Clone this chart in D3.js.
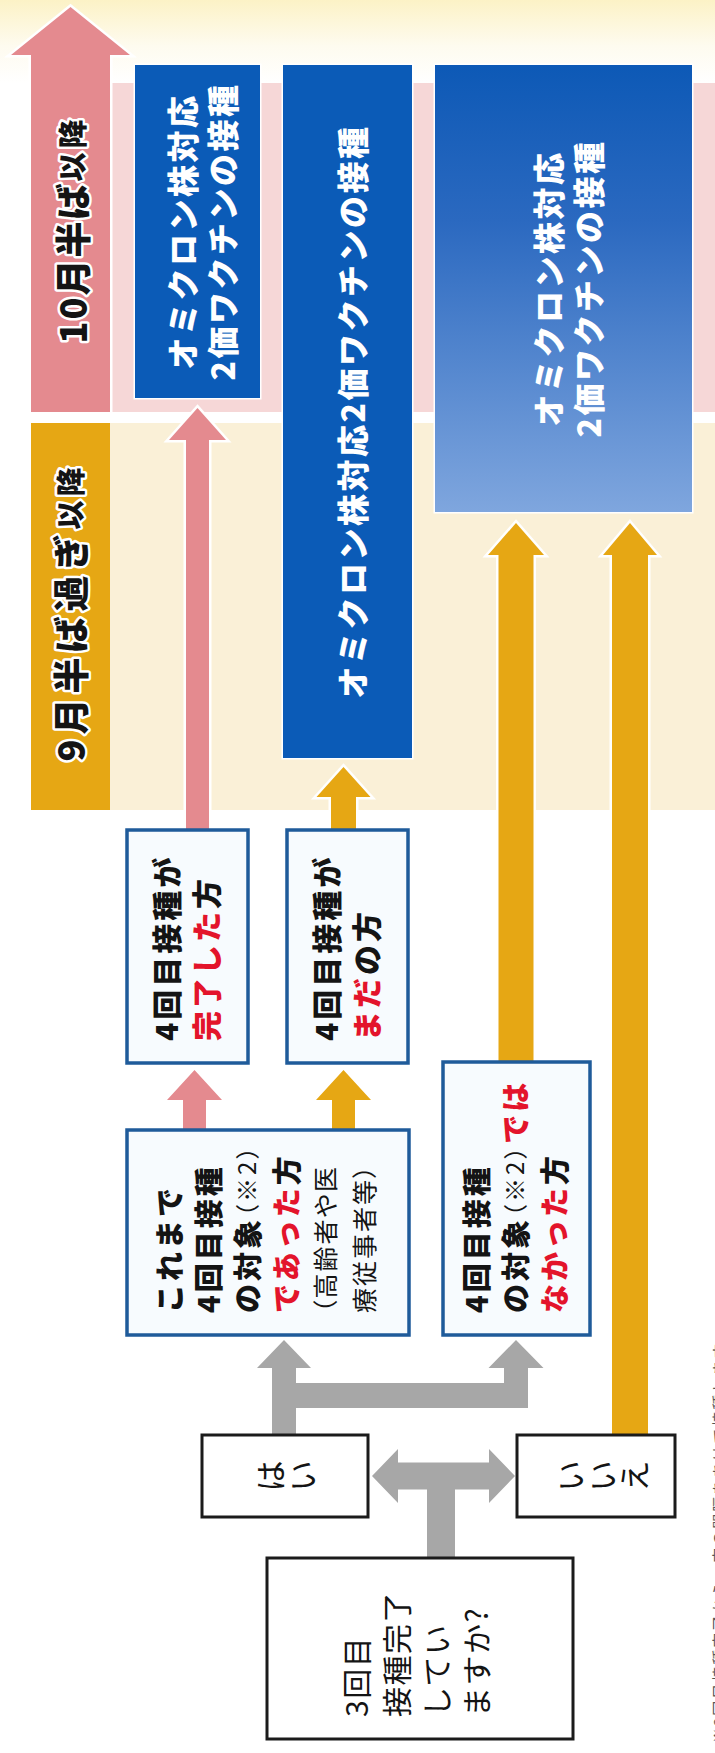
<!DOCTYPE html>
<html><head><meta charset="utf-8">
<script src="https://cdn.jsdelivr.net/npm/d3@7"></script>
<style>html,body{margin:0;padding:0;background:#fff}svg{display:block}</style>
</head><body><div id="chart"></div>
<script>
// ---------------- DATA (content only) ----------------
const phaseLabels = ["10月半ば", "9月半ば過ぎ"];
const phaseSuffix = ["以降", "以降"];
const vaccineLines = [
  ["オミクロン株対応", "2価ワクチンの接種"],
  ["オミクロン株対応2価ワクチンの接種"],
  ["オミクロン株対応", "2価ワクチンの接種"]
];
const statusLines = [
  [[{t:"4回目接種が"}], [{t:"完了した", em:1}, {t:"方"}]],
  [[{t:"4回目接種が"}], [{t:"まだ", em:1}, {t:"の方"}]]
];
const conditionLines = [
  [[{t:"これまで"}], [{t:"4回目接種"}], [{t:"の対象"}, {t:"（※2）", note:1}],
   [{t:"であった", em:1}, {t:"方"}], [{t:"（高齢者や医", note:1}], [{t:"療従事者等）", note:1}]],
  [[{t:"4回目接種"}], [{t:"の対象"}, {t:"（※2）", note:1}, {t:"では", em:1}], [{t:"なかった", em:1}, {t:"方"}]]
];
const answers = ["はい", "いいえ"];
const questionLines = ["3回目", "接種完了", "してい", "ますか?"];
const footnote = "※3回目接種完了から一定の間隔をあけて接種します";

// ---------------- LAYOUT ----------------
const W = 715, H = 1753;
const FONT = "'Noto Sans CJK JP','Noto Sans JP',sans-serif";
const C = {
  pink: "#e48a8f", pinkBand: "#f6d7d7", gold: "#e6a714", cream: "#faf0d7",
  blue: "#0b5bb7", blueLight: "#7fa6de", border: "#1f5b9a", gray: "#a7a7a7",
  red: "#e3142b", ink: "#141414"
};
const col = d3.scaleOrdinal()
  .domain(["phase","blueA","blueB","blueC","st1","st2","cond1","cond2","yes","no","q"])
  .range([[31,110],[135,260],[283,412],[435,692],[127,248],[287,408],[127,409],[443,590],[202,368],[517,675],[267,573]]);
const row = d3.scaleOrdinal()
  .domain(["oct","sep","blueA","blueB","blueC","status","cond1","cond2","answer","q"])
  .range([[83,412],[423,810],[65,398],[65,758],[65,512],[830,1063],[1130,1335],[1062,1335],[1435,1517],[1558,1739]]);

const svg = d3.select("#chart").append("svg").attr("width", W).attr("height", H)
  .attr("viewBox", `0 0 ${W} ${H}`).style("font-family", FONT);
const defs = svg.append("defs");
const gTop = defs.append("linearGradient").attr("id","topg").attr("x1",0).attr("y1",0).attr("x2",0).attr("y2",1);
gTop.append("stop").attr("offset",0).attr("stop-color","#fcf2c6");
gTop.append("stop").attr("offset",0.55).attr("stop-color","#fefbef");
gTop.append("stop").attr("offset",1).attr("stop-color","#ffffff");
const gC = defs.append("linearGradient").attr("id","blueg").attr("x1",0).attr("y1",0).attr("x2",0).attr("y2",1);
gC.append("stop").attr("offset",0).attr("stop-color","#0d59b6");
gC.append("stop").attr("offset",0.35).attr("stop-color","#2b69c0");
gC.append("stop").attr("offset",1).attr("stop-color",C.blueLight);

svg.append("rect").attr("width",W).attr("height",H).attr("fill","#fff");
svg.append("rect").attr("x",0).attr("y",0).attr("width",W).attr("height",row("oct")[0]).attr("fill","url(#topg)");

const bandFill = [C.pinkBand, C.cream];
["oct","sep"].forEach((k,i) => {
  const [y0,y1] = row(k);
  svg.append("rect").attr("x", col("phase")[1]).attr("y", y0).attr("width", W - col("phase")[1]).attr("height", y1-y0).attr("fill", bandFill[i]);
});

// helpers
function upArrow(cx, tip, bottom, sw, hw, hl){
  const p = d3.path();
  p.moveTo(cx, tip); p.lineTo(cx+hw/2, tip+hl); p.lineTo(cx+sw/2, tip+hl); p.lineTo(cx+sw/2, bottom);
  p.lineTo(cx-sw/2, bottom); p.lineTo(cx-sw/2, tip+hl); p.lineTo(cx-hw/2, tip+hl); p.closePath();
  return p.toString();
}
function hDouble(x0, x1, cy, sw, hh, hl){
  const p = d3.path();
  p.moveTo(x0, cy); p.lineTo(x0+hl, cy-hh/2); p.lineTo(x0+hl, cy-sw/2); p.lineTo(x1-hl, cy-sw/2);
  p.lineTo(x1-hl, cy-hh/2); p.lineTo(x1, cy); p.lineTo(x1-hl, cy+hh/2); p.lineTo(x1-hl, cy+sw/2);
  p.lineTo(x0+hl, cy+sw/2); p.lineTo(x0+hl, cy+hh/2); p.closePath();
  return p.toString();
}
function arrow(d, fill, halo){
  svg.append("path").attr("d", d).attr("fill", fill)
    .attr("stroke", halo ? "#fff" : "none").attr("stroke-width", halo ? 5 : 0)
    .style("paint-order","stroke");
}
// rotated (bottom-to-top) text line; each segment measured and placed in sequence
function vLine(x, y, segs, o){
  const g = svg.append("g").attr("transform", `translate(${x},${y}) rotate(-90)`);
  const inner = g.append("g");
  let pos = 0;
  segs.forEach(s => {
    const ls = s.ls ?? (s.note ? (o.noteLs ?? 0) : (o.ls || 0));
    const t = inner.append("text").attr("x", pos).attr("y", 0)
      .attr("dominant-baseline", "central")
      .style("letter-spacing", ls + "px")
      .attr("font-size", s.note ? (o.noteSize||o.size*0.78) : (s.size || o.size))
      .attr("font-weight", s.note ? 400 : (o.weight||400))
      .attr("fill", s.em ? C.red : (o.fill || C.ink)).text(s.t);
    if (s.note) t.style("font-feature-settings", "'palt' 1");
    if (o.halo) t.attr("stroke", "#fff").attr("stroke-width", o.halo).attr("stroke-linejoin","round").style("paint-order","stroke");
    pos += t.node().getComputedTextLength();
  });
  if (o.anchor === "middle") inner.attr("transform", `translate(${-pos/2},0)`);
  return g;
}

// ---- phase labels ----
{
  const [x0,x1] = col("phase"); const cx = (x0+x1)/2;
  arrow(upArrow(cx, 7, row("oct")[1], x1-x0, 119, 48), C.pink, true);
  const [y0,y1] = row("oct");
  vLine(cx, (y0+y1)/2 - 18, [{t:phaseLabels[0], size:36, ls:2}, {t:phaseSuffix[0], size:29, ls:4}],
        {anchor:"middle", weight:900, halo:5, size:36});
}
{
  const [x0,x1] = col("phase"); const [y0,y1] = row("sep");
  svg.append("rect").attr("x",x0).attr("y",y0).attr("width",x1-x0).attr("height",y1-y0).attr("fill",C.gold);
  vLine((x0+x1)/2 - 2, (y0+y1)/2 - 4, [{t:phaseLabels[1], size:36, ls:5}, {t:phaseSuffix[1], size:29, ls:4}],
        {anchor:"middle", weight:900, halo:5, size:36});
}

// ---- blue result boxes ----
["blueA","blueB","blueC"].forEach((k,i) => {
  const [x0,x1] = col(k); const [y0,y1] = row(k);
  svg.append("rect").attr("x",x0).attr("y",y0).attr("width",x1-x0).attr("height",y1-y0)
    .attr("fill", i===2 ? "url(#blueg)" : C.blue).attr("stroke","#fff").attr("stroke-width",3).style("paint-order","stroke");
  const lines = vaccineLines[i]; const cx = (x0+x1)/2, cy = (y0+y1)/2; const lh = 40;
  lines.forEach((ln, j) => {
    vLine(cx + (j - (lines.length-1)/2) * lh + 3, cy, [{t:ln}], {anchor:"middle", size:32, weight:900, ls:2.5, fill:"#fff"});
  });
});

// ---- coloured arrows ----
const st1 = col("st1"), st2 = col("st2");
const cx1 = (st1[0]+st1[1])/2 + 10, cx2 = (st2[0]+st2[1])/2 - 4;
arrow(upArrow(cx1, row("blueA")[1] + 10, row("status")[0], 23, 57, 32), C.pink, true);
arrow(upArrow(cx2, row("blueB")[1] + 9, row("status")[0], 25, 54, 30), C.gold, true);
arrow(upArrow(cx1 - 3, row("status")[1] + 7, row("cond1")[0], 23, 55, 30), C.pink, true);
arrow(upArrow(cx2, row("status")[1] + 7, row("cond1")[0], 23, 55, 30), C.gold, true);
const cond2 = col("cond2");
const gx1 = (cond2[0]+cond2[1])/2 - 0.5, gx2 = 630;
arrow(upArrow(gx1, row("blueC")[1] + 11, row("cond2")[0], 35, 56, 32), C.gold, true);
arrow(upArrow(gx2, row("blueC")[1] + 11, row("answer")[0], 36, 54, 32), C.gold, true);

// ---- white boxes with blue border ----
function boxW(k, rk){
  const [x0,x1] = col(k); const [y0,y1] = row(rk);
  svg.append("rect").attr("x",x0).attr("y",y0).attr("width",x1-x0).attr("height",y1-y0)
    .attr("fill","#f7fbfe").attr("stroke",C.border).attr("stroke-width",3.5);
  return [x0,x1,y0,y1];
}
[["st1","status"],["st2","status"]].forEach(([k,rk],i) => {
  const [x0,x1,y0,y1] = boxW(k, rk);
  const cx = (x0+x1)/2, lh = 40;
  statusLines[i].forEach((segs,j) => vLine(cx + (j-0.5)*lh - 3, y1 - 22, segs, {size:30, weight:900, ls:3}));
});
[["cond1","cond1"],["cond2","cond2"]].forEach(([k,rk],i) => {
  const [x0,x1,y0,y1] = boxW(k, rk);
  const lines = conditionLines[i]; const cx = (x0+x1)/2, lh = 39;
  lines.forEach((segs,j) => {
    const isNote = segs.every(s => s.note);
    vLine(cx + (j-(lines.length-1)/2)*lh - 3, y1 - 22, segs,
      {size: 29, weight: 900, ls: 3, noteSize: isNote ? 25 : 24, noteLs: isNote ? 2 : 3});
  });
});

// ---- gray arrows ----
const yes = col("yes"), no = col("no"), ans = row("answer"), q = col("q"), qr = row("q");
const gl = 284, gr = 516, barY0 = 1383, barY1 = 1408;
arrow(upArrow(gl, row("cond1")[1] + 5, ans[0], 24, 54, 28), C.gray, false);
arrow(upArrow(gr, row("cond2")[1] + 5, barY1, 24, 55, 28), C.gray, false);
svg.append("rect").attr("x", gl-12).attr("y", barY0).attr("width", gr-gl+24).attr("height", barY1-barY0).attr("fill", C.gray);
const acy = (ans[0]+ans[1])/2;
arrow(hDouble(yes[1]+4, no[0]-2, acy, 27, 54, 26), C.gray, false);
svg.append("rect").attr("x", 427).attr("y", acy).attr("width", 28).attr("height", qr[0]-acy).attr("fill", C.gray);

// ---- black-bordered boxes ----
function boxB(x0,x1,y0,y1){
  svg.append("rect").attr("x",x0).attr("y",y0).attr("width",x1-x0).attr("height",y1-y0)
    .attr("fill","#fff").attr("stroke","#1b1b1b").attr("stroke-width",3);
}
[yes, no].forEach((c,i) => {
  boxB(c[0], c[1], ans[0], ans[1]);
  const chars = Array.from(answers[i]); const step = 32; const cx = (c[0]+c[1])/2 + (i===0 ? -1 : 4);
  chars.forEach((ch,j) => {
    svg.append("text").attr("transform", `translate(${cx + (j-(chars.length-1)/2)*step},${acy}) rotate(-90)`)
      .attr("text-anchor","middle").attr("dominant-baseline","central")
      .attr("font-size",31).attr("fill",C.ink).text(ch);
  });
});
boxB(q[0], q[1], qr[0], qr[1]);
questionLines.forEach((ln,j) => {
  vLine(355 + j*40, qr[1] - 22, [{t:ln}], {size:30, weight:400, ls:1.5});
});

// footnote line, only its edge shows at the right border (as in the reference)
vLine(718, H - 10, [{t:footnote}], {size:15, weight:400, ls:2, fill:"#555"});
</script>
</body></html>
